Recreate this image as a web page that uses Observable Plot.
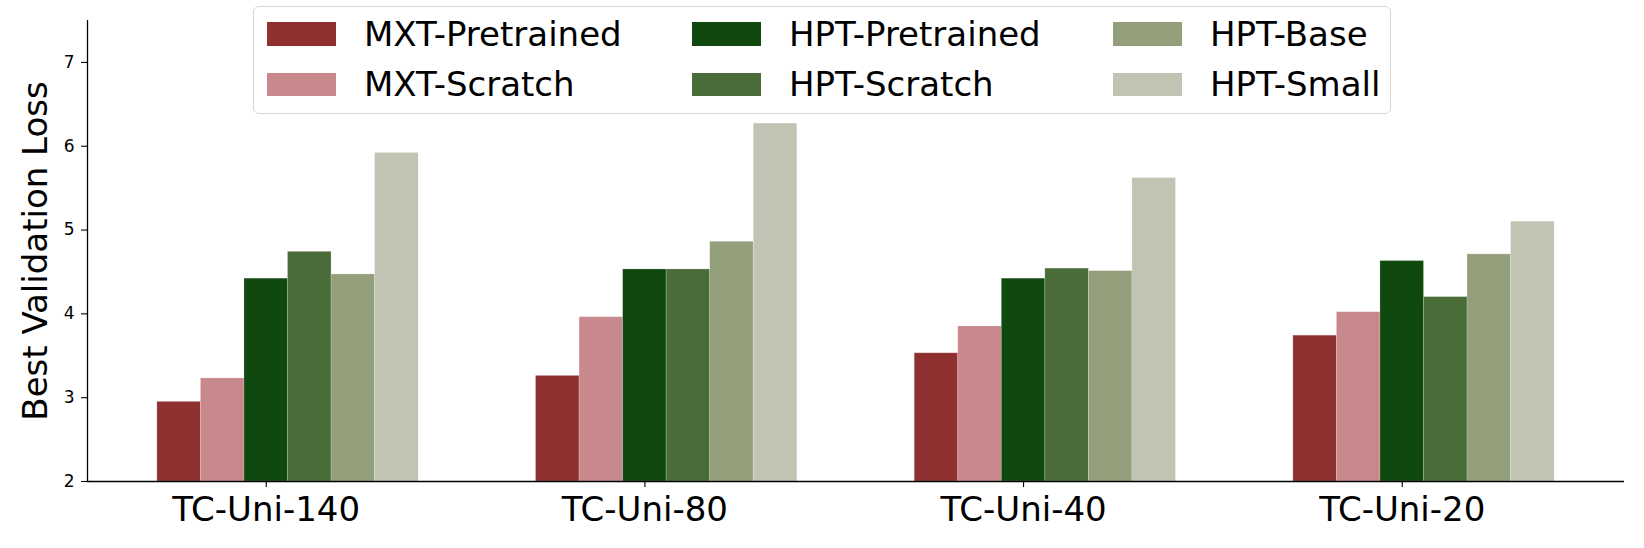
<!DOCTYPE html>
<html>
<head>
<meta charset="utf-8">
<script src="https://cdn.jsdelivr.net/npm/d3@7"></script>
<script src="https://cdn.jsdelivr.net/npm/@observablehq/plot@0.6"></script>
<style>
  html, body { margin: 0; padding: 0; background: #fff; }
  #wrap { position: relative; width: 1644px; height: 548px; font-family: "DejaVu Sans", sans-serif; }
  #legend {
    position: absolute; left: 253px; top: 6px; width: 1138px; height: 108px;
    border: 1.3px solid #d6d6d6; border-radius: 6px; background: rgba(255,255,255,0.8);
    box-sizing: border-box;
    display: grid; grid-template-columns: 425px 421px auto; grid-auto-rows: 50.3px;
    padding: 2px 0 0 13px; font-size: 34px; color: #000;
  }
  .item { display: flex; align-items: center; white-space: nowrap; }
  .sw { width: 69px; height: 23.5px; margin-right: 28px; flex: none; }
</style>
</head>
<body>
<div id="wrap"></div>
<script>
const groups = ["TC-Uni-140", "TC-Uni-80", "TC-Uni-40", "TC-Uni-20"];
const seriesNames = ["MXT-Pretrained", "MXT-Scratch", "HPT-Pretrained", "HPT-Scratch", "HPT-Base", "HPT-Small"];
const seriesColors = ["#8f3030", "#c8888c", "#10490f", "#4a6c39", "#939f7b", "#c1c4b2"];
const mxtPretrained = [2.95, 3.26, 3.53, 3.74];
const mxtScratch    = [3.23, 3.96, 3.85, 4.02];
const hptPretrained = [4.42, 4.53, 4.42, 4.63];
const hptScratch    = [4.74, 4.53, 4.54, 4.20];
const hptBase       = [4.47, 4.86, 4.51, 4.71];
const hptSmall      = [5.92, 6.27, 5.62, 5.10];
const yTicks = [2, 3, 4, 5, 6, 7];
const yDomain = [2, 7.5];

const seriesValues = [mxtPretrained, mxtScratch, hptPretrained, hptScratch, hptBase, hptSmall];
const barW = 0.115;
const rows = [];
// bars centred at group index + (k - 2) * width, as in the original grouped layout
seriesNames.forEach((s, si) => {
  groups.forEach((g, gi) => {
    const c = gi + (si - 2) * barW;
    rows.push({series: s, group: g, x1: c - barW / 2, x2: c + barW / 2, value: seriesValues[si][gi]});
  });
});
const lo = -2.5 * barW;
const hi = groups.length - 1 + 3.5 * barW;
const m = 0.05 * (hi - lo);
const xDomain = [lo - m, hi + m];

const plot = Plot.plot({
  width: 1644, height: 548,
  marginLeft: 87, marginRight: 20, marginTop: 20, marginBottom: 67,
  style: {fontFamily: "DejaVu Sans, sans-serif", background: "#fff"},
  x: {type: "linear", domain: xDomain},
  y: {domain: yDomain},
  color: {domain: seriesNames, range: seriesColors},
  marks: [
    Plot.rectY(rows, {x1: "x1", x2: "x2", y1: yDomain[0], y2: "value", fill: "series",
      stroke: "#fff", strokeOpacity: 0.25, strokeWidth: 0.8}),
    Plot.axisX({ticks: d3.range(groups.length), tickFormat: i => groups[i], tickSize: 6, tickPadding: 9,
      fontSize: 34, label: null, stroke: "#000", strokeWidth: 1.1}),
    Plot.axisY({ticks: yTicks, tickFormat: d => String(d), tickSize: 6, tickPadding: 7, fontSize: 17,
      label: null, strokeWidth: 1.1}),
    Plot.ruleY([yDomain[0]], {stroke: "#000", strokeWidth: 1.3}),
    Plot.ruleX([xDomain[0]], {stroke: "#000", strokeWidth: 1.3}),
    Plot.text(["Best Validation Loss"], {frameAnchor: "left", rotate: -90, dx: -51, fontSize: 34,
      textAnchor: "middle", lineAnchor: "middle", fill: "#000"})
  ]
});
const wrap = document.getElementById("wrap");
wrap.appendChild(plot);

const legend = document.createElement("div");
legend.id = "legend";
// column-major order, three columns
const order = [0, 2, 4, 1, 3, 5];
order.forEach(i => {
  const it = document.createElement("div");
  it.className = "item";
  const sw = document.createElement("span");
  sw.className = "sw";
  sw.style.background = seriesColors[i];
  const tx = document.createElement("span");
  tx.textContent = seriesNames[i];
  it.appendChild(sw); it.appendChild(tx);
  legend.appendChild(it);
});
wrap.appendChild(legend);
</script>
</body>
</html>
